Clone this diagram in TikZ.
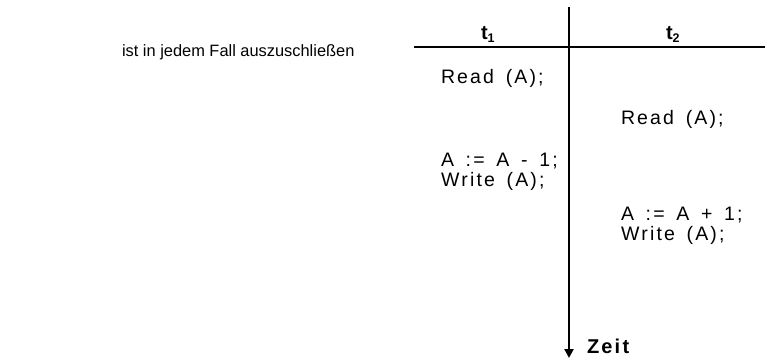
\documentclass[tikz,border=0pt]{standalone}
\usepackage{fontspec}
\setmainfont{Liberation Sans}
\newfontfamily\codefont[LetterSpace=11, WordSpace=1.55]{Liberation Sans}
\usetikzlibrary{arrows.meta}

\begin{document}
\begin{tikzpicture}[x=1pt,y=-1pt]
			\tikzstyle{every node}=[inner sep=0pt, outer sep=0pt, anchor=base west];
			\tikzstyle{code}=[font=\codefont\fontsize{19.5}{21}\selectfont];
			\tikzstyle{head}=[font=\codefont\bfseries\fontsize{20}{21}\selectfont];
			\useasboundingbox (0,0) rectangle (765,359);
			
			%Note
			\node[font=\fontsize{16.4}{20}\selectfont] (note) at (122,56) {ist in jedem Fall auszuschließen};
			
			%Lines
			\coordinate (top) at (569,7);
			\coordinate (bottom) at (569,358);
			\coordinate (left) at (414,47);
			\coordinate (right) at (765,47);
			\draw[line width=2.6pt, -{Triangle[length=9pt,width=9pt]}] (top) -- (bottom);
			\draw[line width=2pt] (left) -- (right);
			
			%Header
			\node[head] (t1) at (481,39) {t\raisebox{-3.5pt}{\fontsize{12.5}{12}\selectfont 1}};
			\node[head] (t2) at (666,39) {t\raisebox{-3.5pt}{\fontsize{12.5}{12}\selectfont 2}};
			\node[head] (zeit) at (587,353) {Zeit};
			
			%t1
			\node[code] (read1) at (441,83) {Read (A);};
			\node[code] (sub) at (441,166) {A := A - 1;};
			\node[code] (write1) at (441,186.5) {W\kern2pt rite (A);};
			
			%t2
			\node[code] (read2) at (621,124) {Read (A);};
			\node[code] (add) at (621,220) {A := A + 1;};
			\node[code] (write2) at (621,240.5) {W\kern2pt rite (A);};
\end{tikzpicture}
\end{document}
